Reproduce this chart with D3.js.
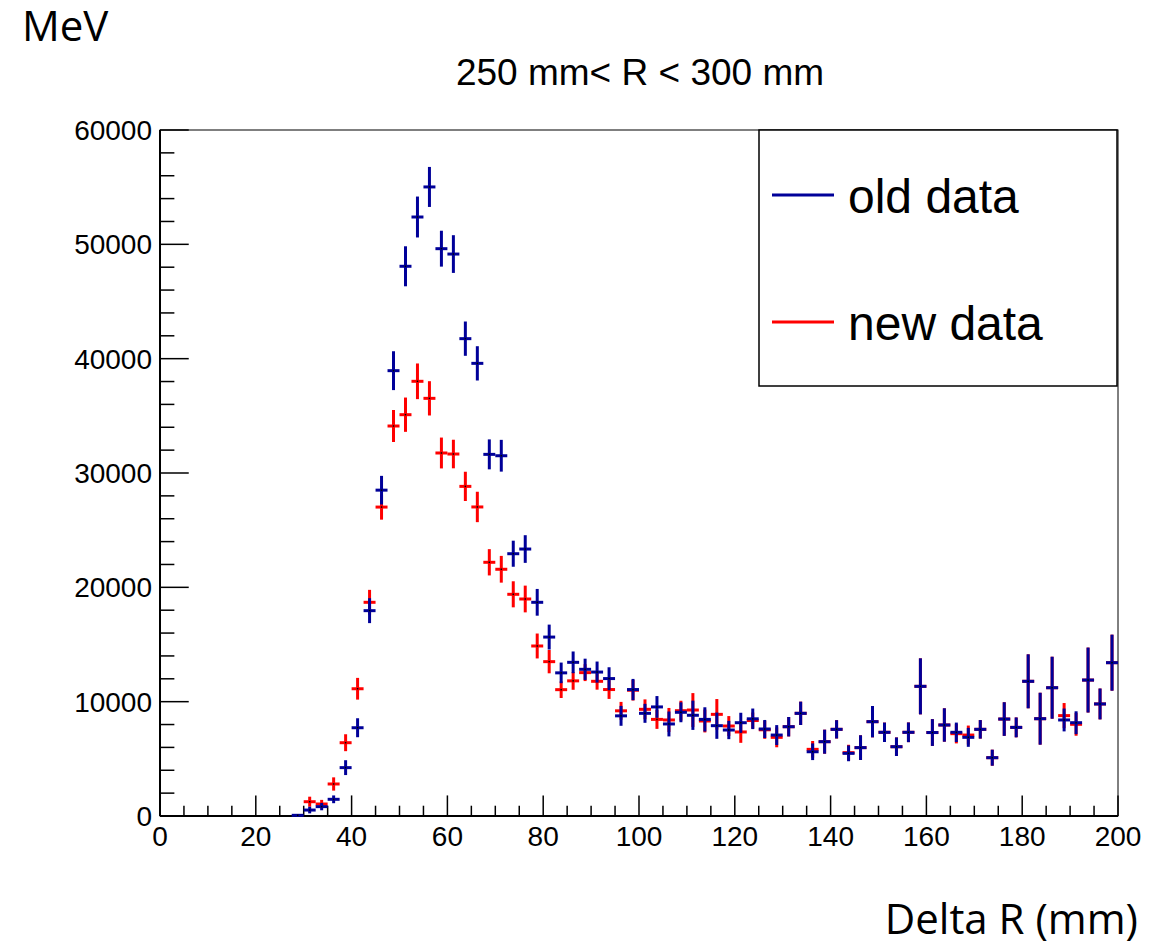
<!DOCTYPE html>
<html>
<head>
<meta charset="utf-8">
<script src="https://cdn.jsdelivr.net/npm/d3@7"></script>
<style>
  html, body { margin: 0; padding: 0; background: #fff; }
  .tick-label { font-family: "Liberation Sans", Arial, sans-serif; font-size: 28px; fill: #000; }
  .legend-text { font-family: "Liberation Sans", Arial, sans-serif; font-size: 48px; fill: #000; }
  .title { font-family: "Liberation Sans", Arial, sans-serif; font-size: 37px; fill: #000; }
  .axis-title { font-family: "Open Sans", sans-serif; font-size: 42px; fill: #000; }
</style>
</head>
<body>
<svg id="chart" width="1166" height="945"></svg>
<script>
// bin centers of the histogram (mm), bins are 2.5 mm wide
const binWidth = 2.5;
const binCenters = [
  28.75, 31.25, 33.75, 36.25, 38.75, 41.25, 43.75, 46.25,
  48.75, 51.25, 53.75, 56.25, 58.75, 61.25, 63.75, 66.25,
  68.75, 71.25, 73.75, 76.25, 78.75, 81.25, 83.75, 86.25,
  88.75, 91.25, 93.75, 96.25, 98.75, 101.25, 103.75, 106.25,
  108.75, 111.25, 113.75, 116.25, 118.75, 121.25, 123.75, 126.25,
  128.75, 131.25, 133.75, 136.25, 138.75, 141.25, 143.75, 146.25,
  148.75, 151.25, 153.75, 156.25, 158.75, 161.25, 163.75, 166.25,
  168.75, 171.25, 173.75, 176.25, 178.75, 181.25, 183.75, 186.25,
  188.75, 191.25, 193.75, 196.25, 198.75
];

// old data (blue)
const oldValues = [
  60, 520, 820, 1460, 4230, 7720, 17960, 28500,
  38950, 48080, 52390, 55020, 49620, 49150, 41750, 39590,
  31630, 31510, 22940, 23350, 18690, 15650, 12520, 13440,
  12830, 12590, 12020, 8760, 11060, 8980, 9540, 8050,
  9070, 8810, 8450, 7900, 7520, 8160, 8500, 7610,
  7080, 7810, 8980, 5620, 6500, 7580, 5480, 5980,
  8250, 7320, 6060, 7320, 11340, 7300, 7960, 7320,
  6880, 7580, 5100, 8480, 7750, 11780, 8510, 11220,
  8400, 8160, 11890, 9800, 13410
];
const oldErrors = [
  100, 290, 320, 340, 650, 830, 1090, 1250,
  1700, 1750, 1790, 1750, 1570, 1650, 1500, 1500,
  1310, 1390, 1140, 1210, 1170, 1090, 900, 950,
  930, 920, 990, 870, 930, 830, 950, 1090,
  870, 1280, 1060, 1150, 800, 870, 900, 790,
  870, 850, 1020, 730, 1050, 800, 690, 1080,
  1370, 850, 810, 860, 2450, 1170, 1460, 850,
  830, 810, 700, 1470, 870, 2360, 2270, 2710,
  1000, 1000, 2840, 1350, 2450
];

// new data (red)
const newValues = [
  null, 1250, 1050, 2800, 6410, 11130, 18690, 27020,
  34110, 35100, 38020, 36530, 31750, 31660, 28830, 27030,
  22190, 21580, 19390, 18980, 14870, 13500, 11050, 11820,
  12540, 11780, 11060, 9200, 11000, 9330, 8450, 8400,
  9210, 9270, 8310, 8890, 7870, 7350, 8350, 7540,
  6880, 7810, 8980, 5830, 6500, 7580, 5540, 5980,
  8250, 7320, 6060, 7320, 11340, 7300, 7960, 7200,
  7080, 7580, 5100, 8480, 7750, 11780, 8510, 11220,
  8780, 8020, 11890, 9800, 13410
];
const newErrors = [
  null, 440, 360, 580, 740, 950, 1090, 1100,
  1400, 1500, 1560, 1500, 1350, 1250, 1280, 1330,
  1150, 1170, 1140, 1170, 1090, 1020, 730, 780,
  740, 730, 820, 780, 900, 870, 830, 1050,
  870, 1480, 1000, 1340, 870, 950, 700, 790,
  870, 850, 1020, 730, 1050, 800, 690, 1080,
  1370, 850, 810, 860, 2450, 1170, 1460, 850,
  830, 810, 700, 1470, 870, 2360, 2270, 2710,
  1100, 1000, 2840, 1350, 2450
];

const xTickValues = [0, 20, 40, 60, 80, 100, 120, 140, 160, 180, 200];
const yTickValues = [0, 10000, 20000, 30000, 40000, 50000, 60000];

const series = [
  { name: "new data", color: "#ff0000", values: newValues, errors: newErrors },
  { name: "old data", color: "#000099", values: oldValues, errors: oldErrors },
];

// plot frame in pixels
const frame = { left: 160, right: 1118, top: 130, bottom: 816 };

const svg = d3.select("#chart");
svg.append("rect").attr("width", 1166).attr("height", 945).attr("fill", "#fff");

const x = d3.scaleLinear().domain([0, 200]).range([frame.left, frame.right]);
const y = d3.scaleLinear().domain([0, 60000]).range([frame.bottom, frame.top]);

// frame (thin top/right)
svg.append("rect")
  .attr("x", frame.left).attr("y", frame.top)
  .attr("width", frame.right - frame.left)
  .attr("height", frame.bottom - frame.top)
  .attr("fill", "none").attr("stroke", "#000").attr("stroke-width", 1);

// ticks drawn inside the frame like ROOT
const tk = svg.append("g").attr("stroke", "#000").attr("stroke-width", 1.5);
const xMajor = 0.03 * (frame.bottom - frame.top);
const yMajor = 0.03 * (frame.right - frame.left);

tk.selectAll(".xminor").data(x.ticks(40)).join("line")
  .attr("x1", (d) => x(d)).attr("x2", (d) => x(d))
  .attr("y1", frame.bottom)
  .attr("y2", (d) => frame.bottom - (xTickValues.includes(d) ? xMajor : xMajor / 2));

tk.selectAll(".yminor").data(y.ticks(30)).join("line")
  .attr("y1", (d) => y(d)).attr("y2", (d) => y(d))
  .attr("x1", frame.left)
  .attr("x2", (d) => frame.left + (yTickValues.includes(d) ? yMajor : yMajor / 2));

// axis lines
svg.append("line")
  .attr("x1", frame.left).attr("x2", frame.right)
  .attr("y1", frame.bottom).attr("y2", frame.bottom)
  .attr("stroke", "#000").attr("stroke-width", 2);
svg.append("line")
  .attr("x1", frame.left).attr("x2", frame.left)
  .attr("y1", frame.top).attr("y2", frame.bottom)
  .attr("stroke", "#000").attr("stroke-width", 2);

// tick labels
svg.selectAll(".xl").data(xTickValues).join("text")
  .attr("class", "tick-label")
  .attr("x", (d) => x(d)).attr("y", 846)
  .attr("text-anchor", "middle")
  .text((d) => d);

svg.selectAll(".yl").data(yTickValues).join("text")
  .attr("class", "tick-label")
  .attr("x", 152).attr("y", (d) => y(d) + 10)
  .attr("text-anchor", "end")
  .text((d) => d);

// error bar markers
series.forEach((s) => {
  const pts = binCenters
    .map((c, i) => ({ c, v: s.values[i], e: s.errors[i] }))
    .filter((p) => p.v != null);
  const g = svg.append("g").attr("stroke", s.color).attr("stroke-width", 3);
  g.selectAll(".v").data(pts).join("line")
    .attr("x1", (d) => x(d.c)).attr("x2", (d) => x(d.c))
    .attr("y1", (d) => y(d.v - d.e)).attr("y2", (d) => y(d.v + d.e));
  g.selectAll(".h").data(pts).join("line")
    .attr("x1", (d) => x(d.c - binWidth / 2)).attr("x2", (d) => x(d.c + binWidth / 2))
    .attr("y1", (d) => y(d.v)).attr("y2", (d) => y(d.v));
  svg.append("g").selectAll("rect").data(pts).join("rect")
    .attr("x", (d) => x(d.c) - 0.75).attr("y", (d) => y(d.v) - 0.75)
    .attr("width", 1.5).attr("height", 1.5).attr("fill", "#000");
});

// legend
const lg = svg.append("g");
lg.append("rect")
  .attr("x", 759).attr("y", frame.top).attr("width", frame.right - 1 - 759).attr("height", 256)
  .attr("fill", "#fff").attr("stroke", "#000").attr("stroke-width", 1.5);
[
  { s: series[1], y: 195 },
  { s: series[0], y: 322 },
].forEach((it) => {
  lg.append("line")
    .attr("x1", 772).attr("x2", 834).attr("y1", it.y).attr("y2", it.y)
    .attr("stroke", it.s.color).attr("stroke-width", 3);
  lg.append("text").attr("class", "legend-text")
    .attr("x", 848).attr("y", it.y + 18).text(it.s.name);
});

// titles
svg.append("text").attr("class", "title")
  .attr("x", 640).attr("y", 85).attr("text-anchor", "middle")
  .text("250 mm< R < 300 mm");
svg.append("text").attr("class", "axis-title")
  .attr("x", 22).attr("y", 41).text("MeV");
svg.append("text").attr("class", "axis-title")
  .attr("x", 1138).attr("y", 934).attr("text-anchor", "end")
  .text("Delta R (mm)");
</script>
</body>
</html>
